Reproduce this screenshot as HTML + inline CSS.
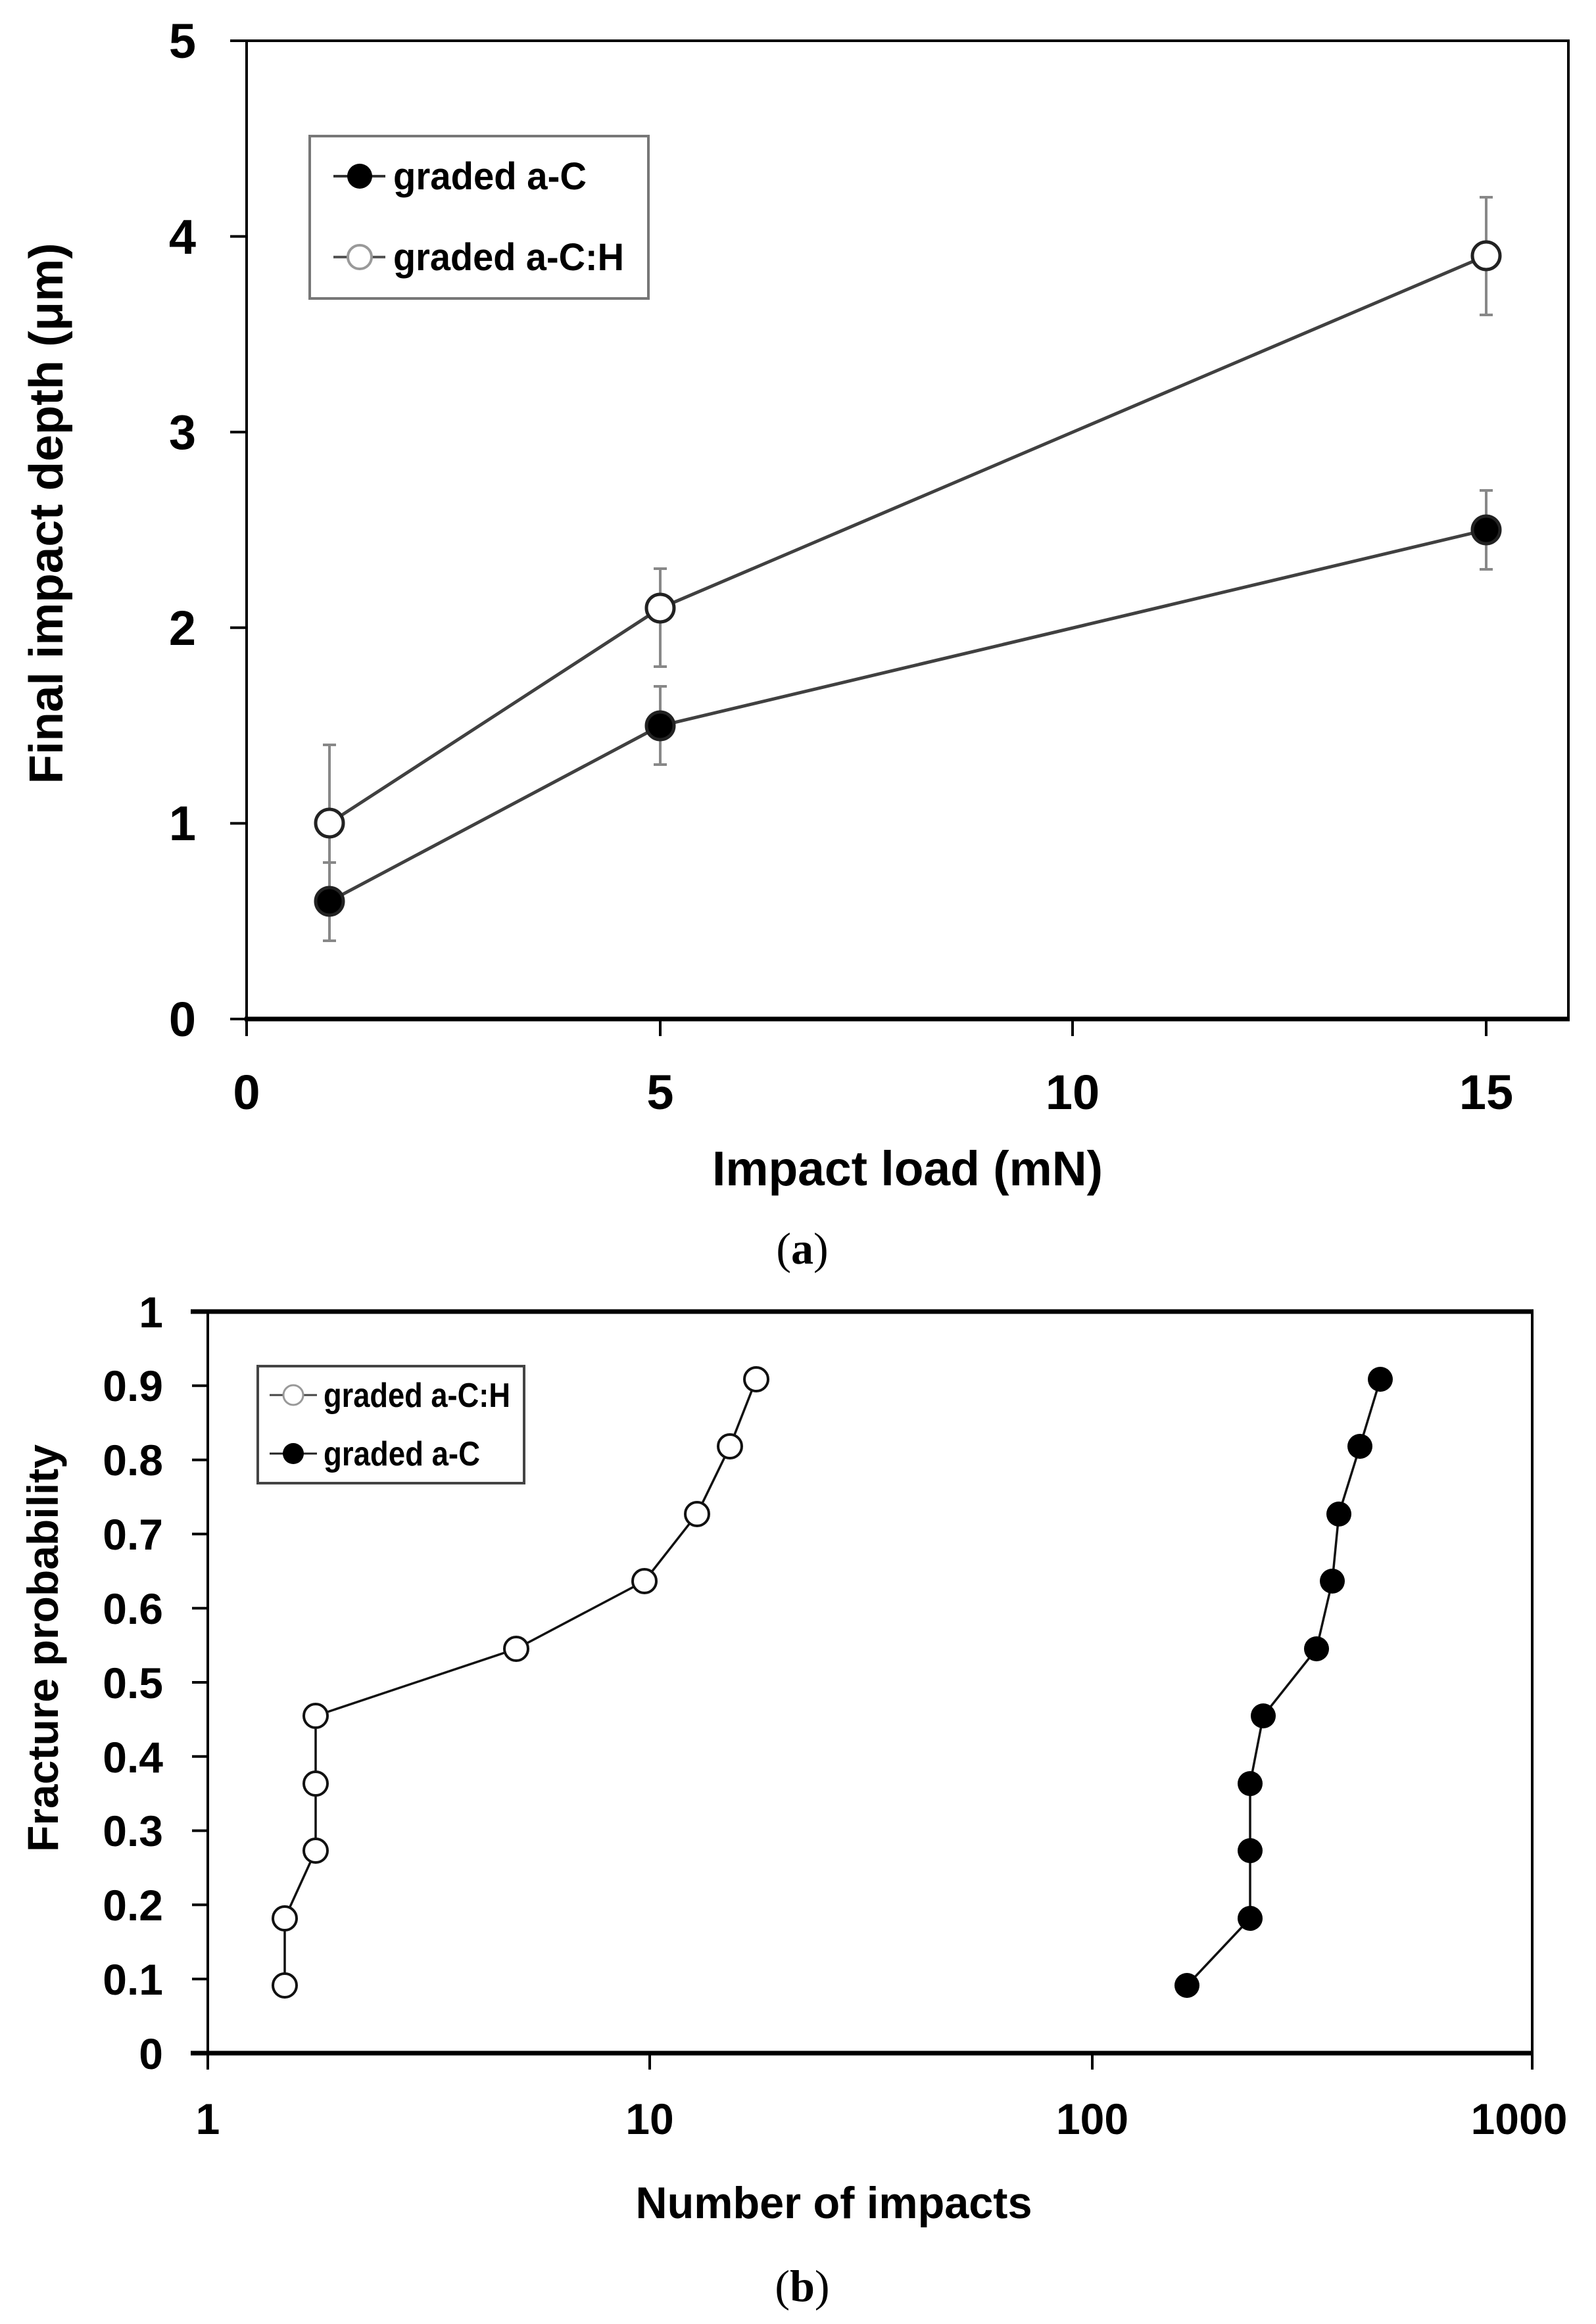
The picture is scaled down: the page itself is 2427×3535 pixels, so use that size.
<!DOCTYPE html>
<html><head><meta charset="utf-8"><style>html,body{margin:0;padding:0;background:#fff}svg{display:block}</style></head>
<body>
<svg width="2427" height="3535" viewBox="0 0 2427 3535" xmlns="http://www.w3.org/2000/svg" font-family="Liberation Sans, sans-serif">
<rect width="2427" height="3535" fill="#fff"/>
<!-- ===== Chart (a) ===== -->
<g>
<rect x="375" y="62" width="2010" height="1488" fill="none" stroke="#000" stroke-width="4"/>
<line x1="372" y1="1550" x2="2387" y2="1550" stroke="#000" stroke-width="7"/>
<g stroke="#000" stroke-width="4">
<line x1="350" y1="62" x2="375" y2="62"/><line x1="350" y1="359.6" x2="375" y2="359.6"/>
<line x1="350" y1="657.2" x2="375" y2="657.2"/><line x1="350" y1="954.8" x2="375" y2="954.8"/>
<line x1="350" y1="1252.4" x2="375" y2="1252.4"/><line x1="350" y1="1550" x2="375" y2="1550"/>
<line x1="375" y1="1550" x2="375" y2="1576"/><line x1="1004" y1="1550" x2="1004" y2="1576"/>
<line x1="1631" y1="1550" x2="1631" y2="1576"/><line x1="2260" y1="1550" x2="2260" y2="1576"/>
</g>
<g font-size="74" font-weight="bold" text-anchor="end" fill="#000">
<text x="298" y="88">5</text><text x="298" y="386">4</text><text x="298" y="683">3</text>
<text x="298" y="981">2</text><text x="298" y="1278">1</text><text x="298" y="1576">0</text>
</g>
<g font-size="74" font-weight="bold" text-anchor="middle" fill="#000">
<text x="375" y="1687">0</text><text x="1004" y="1687">5</text><text x="1631" y="1687">10</text><text x="2260" y="1687">15</text>
</g>
<text x="1380" y="1803" font-size="74" font-weight="bold" text-anchor="middle" textLength="594" lengthAdjust="spacingAndGlyphs">Impact load (mN)</text>
<text transform="translate(95,781) rotate(-90)" font-size="72" font-weight="bold" text-anchor="middle" textLength="823" lengthAdjust="spacingAndGlyphs">Final impact depth (μm)</text>
<!-- error bars -->
<g stroke="#888" stroke-width="4">
<line x1="501" y1="1133" x2="501" y2="1312"/><line x1="491" y1="1133" x2="511" y2="1133"/><line x1="491" y1="1312" x2="511" y2="1312"/>
<line x1="501" y1="1312" x2="501" y2="1431"/><line x1="491" y1="1431" x2="511" y2="1431"/>
<line x1="1004" y1="865" x2="1004" y2="1014"/><line x1="994" y1="865" x2="1014" y2="865"/><line x1="994" y1="1014" x2="1014" y2="1014"/>
<line x1="1004" y1="1044" x2="1004" y2="1163"/><line x1="994" y1="1044" x2="1014" y2="1044"/><line x1="994" y1="1163" x2="1014" y2="1163"/>
<line x1="2260" y1="300" x2="2260" y2="479"/><line x1="2250" y1="300" x2="2270" y2="300"/><line x1="2250" y1="479" x2="2270" y2="479"/>
<line x1="2260" y1="746" x2="2260" y2="866"/><line x1="2250" y1="746" x2="2270" y2="746"/><line x1="2250" y1="866" x2="2270" y2="866"/>
</g>
<polyline points="501,1252 1004,925 2260,389" fill="none" stroke="#404040" stroke-width="5"/>
<polyline points="501,1371 1004,1104 2260,806" fill="none" stroke="#404040" stroke-width="5"/>
<g stroke="#222" stroke-width="5">
<circle cx="501" cy="1252" r="21" fill="#fff"/><circle cx="1004" cy="925" r="21" fill="#fff"/><circle cx="2260" cy="389" r="21" fill="#fff"/>
<circle cx="501" cy="1371" r="21" fill="#000"/><circle cx="1004" cy="1104" r="21" fill="#000"/><circle cx="2260" cy="806" r="21" fill="#000"/>
</g>
<!-- legend -->
<rect x="471" y="207" width="515" height="247" fill="#fff" stroke="#777" stroke-width="4"/>
<line x1="507" y1="268" x2="586" y2="268" stroke="#333" stroke-width="4"/>
<circle cx="547" cy="268" r="19" fill="#000"/>
<line x1="507" y1="391" x2="586" y2="391" stroke="#555" stroke-width="4"/>
<circle cx="547" cy="391" r="18" fill="#fff" stroke="#999" stroke-width="4"/>
<text x="598" y="288" font-size="58" font-weight="bold" textLength="294" lengthAdjust="spacingAndGlyphs">graded a-C</text>
<text x="598" y="411" font-size="58" font-weight="bold" textLength="351" lengthAdjust="spacingAndGlyphs">graded a-C:H</text>
</g>
<text x="1220" y="1922" font-family="Liberation Serif, serif" font-size="68" text-anchor="middle">(<tspan font-weight="bold">a</tspan>)</text>

<!-- ===== Chart (b) ===== -->
<g>
<rect x="316" y="1995" width="2014" height="1128" fill="none" stroke="#000" stroke-width="4"/>
<line x1="290" y1="1995" x2="2332" y2="1995" stroke="#000" stroke-width="7"/>
<line x1="290" y1="3123" x2="2332" y2="3123" stroke="#000" stroke-width="7"/>
<g stroke="#000" stroke-width="4">
<line x1="292" y1="2107.8" x2="316" y2="2107.8"/><line x1="292" y1="2220.6" x2="316" y2="2220.6"/>
<line x1="292" y1="2333.4" x2="316" y2="2333.4"/><line x1="292" y1="2446.2" x2="316" y2="2446.2"/>
<line x1="292" y1="2559" x2="316" y2="2559"/><line x1="292" y1="2671.8" x2="316" y2="2671.8"/>
<line x1="292" y1="2784.6" x2="316" y2="2784.6"/><line x1="292" y1="2897.4" x2="316" y2="2897.4"/>
<line x1="292" y1="3010.2" x2="316" y2="3010.2"/>
<line x1="316" y1="3123" x2="316" y2="3148"/><line x1="988" y1="3123" x2="988" y2="3148"/>
<line x1="1661" y1="3123" x2="1661" y2="3148"/><line x1="2330" y1="3123" x2="2330" y2="3148"/>
</g>
<g font-size="66" font-weight="bold" text-anchor="end">
<text x="248" y="2019">1</text><text x="248" y="2131">0.9</text><text x="248" y="2244">0.8</text>
<text x="248" y="2357">0.7</text><text x="248" y="2470">0.6</text><text x="248" y="2583">0.5</text>
<text x="248" y="2696">0.4</text><text x="248" y="2808">0.3</text><text x="248" y="2921">0.2</text>
<text x="248" y="3034">0.1</text><text x="248" y="3147">0</text>
</g>
<g font-size="66" font-weight="bold" text-anchor="middle">
<text x="316" y="3246">1</text><text x="988" y="3246">10</text><text x="1661" y="3246">100</text><text x="2310" y="3246">1000</text>
</g>
<text x="1268" y="3374" font-size="68" font-weight="bold" text-anchor="middle" textLength="603" lengthAdjust="spacingAndGlyphs">Number of impacts</text>
<text transform="translate(88,2507) rotate(-90)" font-size="66" font-weight="bold" text-anchor="middle" textLength="620" lengthAdjust="spacingAndGlyphs">Fracture probability</text>
<polyline points="433,3020 433,2918 480,2815 480,2713 480,2610 785,2508 980,2405 1060,2303 1110,2200 1150,2098" fill="none" stroke="#111" stroke-width="3.5"/>
<polyline points="1805,3020 1901,2918 1901,2815 1901,2713 1921,2610 2002,2508 2026,2405 2036,2303 2068,2200 2099,2098" fill="none" stroke="#111" stroke-width="3.5"/>
<g stroke="#111" stroke-width="4" fill="#fff">
<circle cx="433" cy="3020" r="18"/><circle cx="433" cy="2918" r="18"/><circle cx="480" cy="2815" r="18"/>
<circle cx="480" cy="2713" r="18"/><circle cx="480" cy="2610" r="18"/><circle cx="785" cy="2508" r="18"/>
<circle cx="980" cy="2405" r="18"/><circle cx="1060" cy="2303" r="18"/><circle cx="1110" cy="2200" r="18"/>
<circle cx="1150" cy="2098" r="18"/>
</g>
<g fill="#000">
<circle cx="1805" cy="3020" r="19"/><circle cx="1901" cy="2918" r="19"/><circle cx="1901" cy="2815" r="19"/>
<circle cx="1901" cy="2713" r="19"/><circle cx="1921" cy="2610" r="19"/><circle cx="2002" cy="2508" r="19"/>
<circle cx="2026" cy="2405" r="19"/><circle cx="2036" cy="2303" r="19"/><circle cx="2068" cy="2200" r="19"/>
<circle cx="2099" cy="2098" r="19"/>
</g>
<rect x="392" y="2078" width="405" height="178" fill="#fff" stroke="#444" stroke-width="4"/>
<line x1="410" y1="2122" x2="482" y2="2122" stroke="#444" stroke-width="3"/>
<circle cx="446" cy="2122" r="15" fill="#fff" stroke="#999" stroke-width="3"/>
<line x1="410" y1="2211" x2="482" y2="2211" stroke="#222" stroke-width="3"/>
<circle cx="446" cy="2211" r="16" fill="#000"/>
<text x="492" y="2140" font-size="52" font-weight="bold" textLength="284" lengthAdjust="spacingAndGlyphs">graded a-C:H</text>
<text x="492" y="2229" font-size="52" font-weight="bold" textLength="238" lengthAdjust="spacingAndGlyphs">graded a-C</text>
</g>
<text x="1220" y="3500" font-family="Liberation Serif, serif" font-size="68" text-anchor="middle">(<tspan font-weight="bold">b</tspan>)</text>
</svg>
</body></html>
